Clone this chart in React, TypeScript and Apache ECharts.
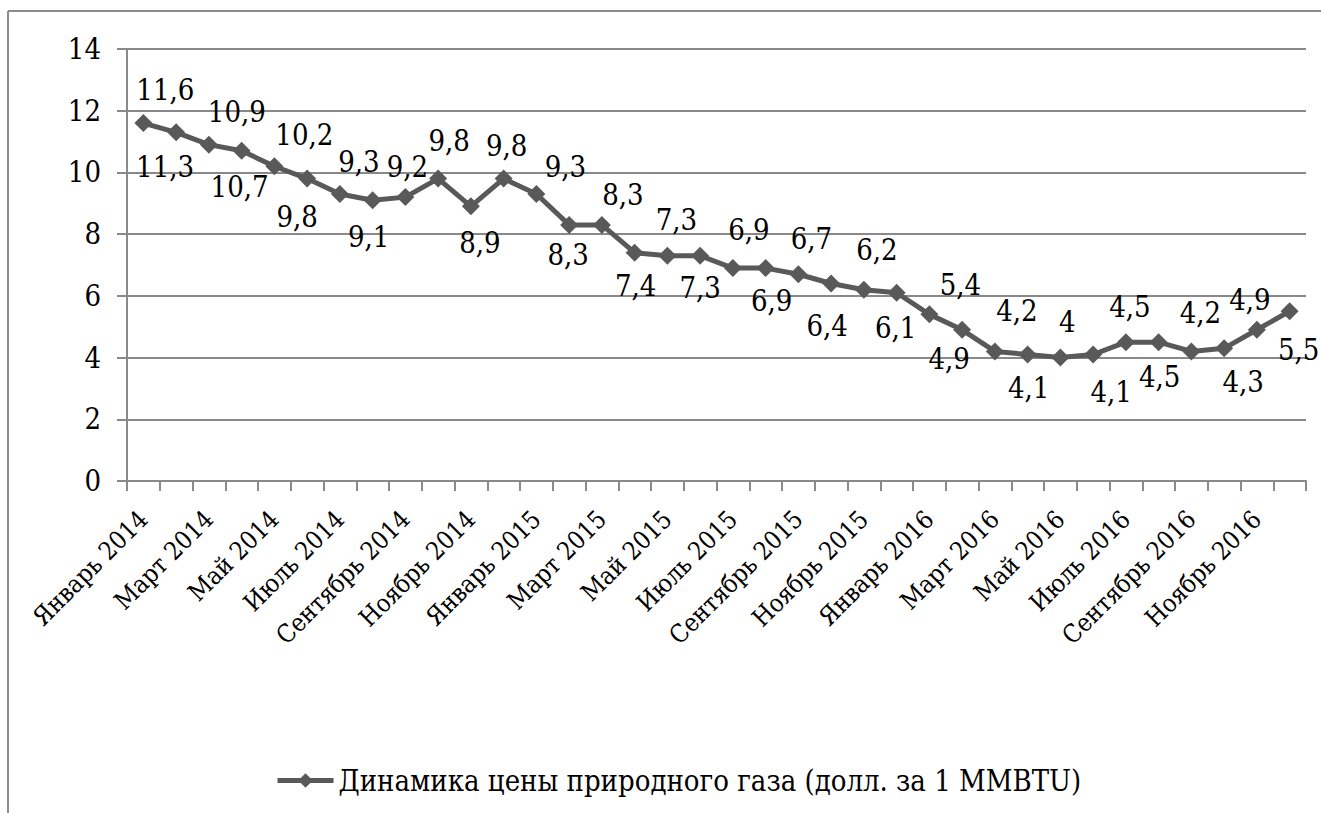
import React, { useEffect, useRef } from 'react';
import * as echarts from 'echarts';

const FONT = "'DejaVu Serif Condensed', 'DejaVu Serif', serif";
const FS = 29;
const FS_X = 25;

const categories = [
  'Январь 2014', 'Февраль 2014', 'Март 2014', 'Апрель 2014', 'Май 2014', 'Июнь 2014',
  'Июль 2014', 'Август 2014', 'Сентябрь 2014', 'Октябрь 2014', 'Ноябрь 2014', 'Декабрь 2014',
  'Январь 2015', 'Февраль 2015', 'Март 2015', 'Апрель 2015', 'Май 2015', 'Июнь 2015',
  'Июль 2015', 'Август 2015', 'Сентябрь 2015', 'Октябрь 2015', 'Ноябрь 2015', 'Декабрь 2015',
  'Январь 2016', 'Февраль 2016', 'Март 2016', 'Апрель 2016', 'Май 2016', 'Июнь 2016',
  'Июль 2016', 'Август 2016', 'Сентябрь 2016', 'Октябрь 2016', 'Ноябрь 2016', 'Декабрь 2016',
];

const prices = [
  11.6, 11.3, 10.9, 10.7, 10.2, 9.8, 9.3, 9.1, 9.2, 9.8, 8.9, 9.8,
  9.3, 8.3, 8.3, 7.4, 7.3, 7.3, 6.9, 6.9, 6.7, 6.4, 6.2, 6.1,
  5.4, 4.9, 4.2, 4.1, 4.0, 4.1, 4.5, 4.5, 4.2, 4.3, 4.9, 5.5,
];

const seriesName = 'Динамика цены природного газа (долл. за 1 MMBTU)';

// label placement nudges (relative to the marker), layout only
const labelOffsets: [number, number][] = [
  [22, -33], [-11, 35], [28, -33], [-2, 36], [30, -31], [-10, 38], [19, -32], [-4, 37], [2, -30], [11, -38], [9, 37], [3, -33],
  [29, -27], [-1, 30], [21, -30], [1, 33], [9, -36], [0, 32], [16, -38], [6, 33], [13, -35], [-4, 42], [13, -40], [-1, 35],
  [31, -29], [-13, 29], [22, -40], [1, 34], [7, -36], [18, 38], [4, -35], [1, 35], [9, -38], [19, 34], [-7, -30], [9, 39],
];

const GRID_COLOR = '#898989';
const LINE_COLOR = '#595959';

export default function App() {
  const ref = useRef<HTMLDivElement>(null);
  useEffect(() => {
    const chart = echarts.init(ref.current!, null, { renderer: 'svg' });
    chart.setOption({
      animation: false,
      backgroundColor: '#ffffff',
      textStyle: { fontFamily: FONT },
      grid: { left: 127, right: 15, top: 49, bottom: 332, containLabel: false, outerBoundsMode: 'none' },
      graphic: [
        { type: 'line', shape: { x1: 8, y1: 11, x2: 8, y2: 813 }, style: { stroke: '#8c8c8c', lineWidth: 2 } },
        { type: 'line', shape: { x1: 8, y1: 11, x2: 1321, y2: 11 }, style: { stroke: '#8c8c8c', lineWidth: 2 } },
      ],
      legend: {
        left: 270,
        top: 761,
        itemWidth: 56,
        itemHeight: 18,
        itemGap: 10,
        lineStyle: { width: 5, color: LINE_COLOR },
        itemStyle: { color: LINE_COLOR },
        textStyle: { fontFamily: FONT, fontSize: FS, color: '#000' },
        data: [seriesName],
      },
      xAxis: {
        type: 'category',
        data: categories,
        boundaryGap: true,
        axisLine: { lineStyle: { color: GRID_COLOR, width: 2 } },
        axisTick: { show: true, interval: 0, length: 10, lineStyle: { color: GRID_COLOR, width: 2 } },
        axisLabel: {
          interval: 1,
          rotate: 45,
          margin: 34,
          fontFamily: FONT,
          fontSize: FS_X,
          color: '#000',
        },
        splitLine: { show: false },
      },
      yAxis: {
        type: 'value',
        min: 0,
        max: 14,
        interval: 2,
        axisLine: { show: true, lineStyle: { color: GRID_COLOR, width: 2 } },
        axisTick: { show: true, length: 10, lineStyle: { color: GRID_COLOR, width: 2 } },
        axisLabel: { margin: 26, fontFamily: FONT, fontSize: FS, color: '#000' },
        splitLine: { show: true, lineStyle: { color: GRID_COLOR, width: 2 } },
      },
      series: [
        {
          name: seriesName,
          type: 'line',
          data: prices.map((v, i) => ({ value: v, label: { offset: labelOffsets[i] } })),
          symbol: 'diamond',
          symbolSize: 18,
          lineStyle: { color: LINE_COLOR, width: 5 },
          itemStyle: { color: LINE_COLOR },
          label: {
            show: true,
            position: 'inside',
            fontFamily: FONT,
            fontSize: FS,
            color: '#000',
            formatter: (p: any) => String(p.value).replace('.', ','),
          },
        },
      ],
    });
    return () => chart.dispose();
  }, []);
  return (
    <div
      ref={ref}
      style={{ position: 'fixed', left: 0, top: 0, width: 1321, height: 813, background: '#fff' }}
    />
  );
}
